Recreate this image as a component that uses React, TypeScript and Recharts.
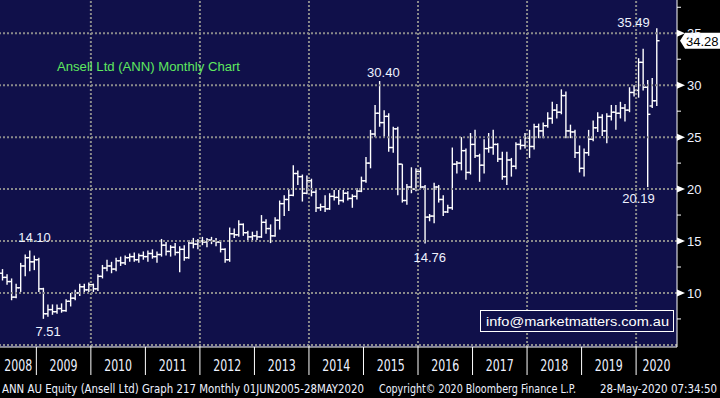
import {
  Bar,
  CartesianGrid,
  ComposedChart,
  ReferenceDot,
  ReferenceLine,
  XAxis,
  YAxis,
} from 'recharts';

// first bar of the chart
const START_YEAR = 2008;
const START_MONTH = 5;

// monthly bars: [open, high, low, close]
const y2008 = [
  [11.9, 12.3, 11.2, 11.5], [11.5, 11.8, 10.8, 11.1], [11.1, 11.4, 9.3, 9.6], [9.6, 10.9, 9.5, 10.5],
  [10.5, 12.9, 10.1, 12.6], [12.6, 13.7, 11.6, 13.4], [13.4, 14.1, 12.1, 13.0], [13.0, 13.6, 12.2, 13.2],
];
const y2009 = [
  [13.2, 13.4, 10.1, 10.4], [10.4, 10.5, 7.51, 8.0], [8.0, 8.9, 7.7, 8.4], [8.4, 8.9, 7.9, 8.2],
  [8.2, 8.9, 8.0, 8.5], [8.5, 9.0, 8.1, 8.3], [8.3, 9.4, 8.2, 9.2], [9.2, 10.0, 8.7, 9.5],
  [9.5, 10.3, 9.3, 10.0], [10.0, 10.9, 9.7, 10.6], [10.6, 10.9, 10.1, 10.3], [10.3, 11.0, 10.1, 10.8],
];
const y2010 = [
  [10.8, 10.9, 10.1, 10.4], [10.4, 11.8, 10.2, 11.6], [11.6, 12.7, 11.4, 12.4], [12.4, 13.2, 12.1, 12.6],
  [12.6, 13.0, 11.9, 12.3], [12.3, 13.4, 12.1, 13.1], [13.1, 13.5, 12.6, 12.9], [12.9, 13.6, 12.7, 13.4],
  [13.4, 13.8, 13.0, 13.5], [13.5, 13.9, 13.0, 13.2], [13.2, 13.8, 12.9, 13.6], [13.6, 14.0, 13.2, 13.5],
];
const y2011 = [
  [13.5, 14.1, 13.0, 13.8], [13.8, 14.2, 13.3, 13.5], [13.5, 14.0, 12.9, 13.7], [13.7, 15.2, 13.5, 14.6],
  [14.6, 14.9, 13.6, 14.0], [14.0, 14.6, 13.5, 14.4], [14.4, 14.8, 13.6, 13.9], [13.9, 14.5, 12.0, 14.2],
  [14.2, 14.6, 13.1, 13.4], [13.4, 15.1, 13.3, 14.8], [14.8, 15.3, 14.3, 14.7], [14.7, 15.2, 14.2, 15.0],
];
const y2012 = [
  [15.0, 15.4, 14.6, 14.9], [14.9, 15.3, 14.4, 15.1], [15.1, 15.4, 14.7, 15.0], [15.0, 15.3, 14.5, 14.9],
  [14.9, 15.1, 13.9, 14.2], [14.2, 14.3, 12.9, 13.2], [13.2, 16.3, 13.0, 15.7], [15.7, 16.2, 15.3, 15.6],
  [15.6, 17.0, 15.4, 16.6], [16.6, 16.7, 15.5, 15.8], [15.8, 16.0, 15.0, 15.4], [15.4, 15.9, 15.0, 15.5],
];
const y2013 = [
  [15.5, 16.0, 15.1, 15.4], [15.4, 17.5, 15.3, 16.8], [16.8, 17.1, 15.7, 16.2], [16.2, 16.6, 14.8, 15.5],
  [15.5, 17.3, 15.4, 17.0], [17.0, 18.9, 16.1, 18.6], [18.6, 19.4, 17.4, 19.0], [19.0, 20.0, 17.9, 19.4],
  [19.4, 22.3, 19.3, 21.5], [21.5, 21.8, 20.4, 21.2], [21.2, 21.4, 18.8, 19.6], [19.6, 21.3, 19.5, 20.8],
];
const y2014 = [
  [20.8, 21.0, 19.3, 19.7], [19.7, 19.9, 17.8, 18.2], [18.2, 18.6, 17.9, 18.3], [18.3, 19.4, 17.8, 18.1],
  [18.1, 19.6, 18.0, 19.3], [19.3, 19.9, 18.9, 19.2], [19.2, 19.9, 18.5, 18.9], [18.9, 19.9, 18.7, 19.6],
  [19.6, 19.8, 18.9, 19.1], [19.1, 19.5, 18.2, 19.3], [19.3, 20.1, 19.0, 19.8], [19.8, 21.2, 19.7, 20.8],
];
const y2015 = [
  [20.8, 23.1, 20.6, 22.5], [22.5, 25.7, 22.0, 25.3], [25.3, 28.1, 25.0, 27.3], [27.3, 30.4, 26.0, 26.4],
  [26.4, 27.6, 25.0, 27.0], [27.0, 27.3, 23.6, 24.0], [24.0, 26.0, 23.5, 25.8], [25.8, 26.0, 19.4, 22.4],
  [22.4, 22.4, 18.7, 18.9], [18.9, 20.5, 18.5, 20.2], [20.2, 22.1, 19.6, 20.0], [20.0, 22.0, 19.8, 21.7],
];
const y2016 = [
  [21.7, 22.1, 20.0, 20.2], [20.2, 20.4, 14.76, 17.3], [17.3, 17.6, 16.9, 17.4], [17.4, 20.6, 16.7, 20.2],
  [20.2, 20.4, 18.7, 19.0], [19.0, 19.4, 17.4, 17.8], [17.8, 18.5, 17.7, 18.2], [18.2, 24.0, 18.0, 22.4],
  [22.4, 22.7, 21.5, 22.5], [22.5, 25.0, 21.8, 23.7], [23.7, 23.9, 20.9, 21.6], [21.6, 25.4, 21.4, 24.3],
];
const y2017 = [
  [24.3, 25.7, 23.0, 23.2], [23.2, 23.4, 20.7, 22.3], [22.3, 24.8, 21.5, 23.9], [23.9, 25.4, 23.5, 24.0],
  [24.0, 25.7, 23.3, 24.3], [24.3, 24.4, 22.6, 22.9], [22.9, 23.6, 20.9, 21.2], [21.2, 23.6, 20.4, 22.8],
  [22.8, 23.0, 21.2, 22.2], [22.2, 24.5, 21.9, 24.3], [24.3, 24.8, 23.8, 24.2], [24.2, 25.4, 23.9, 24.9],
];
const y2018 = [
  [24.9, 25.7, 23.0, 24.1], [24.1, 26.3, 23.8, 26.0], [26.0, 26.3, 24.9, 25.6], [25.6, 26.4, 24.9, 26.1],
  [26.1, 27.4, 25.9, 26.8], [26.8, 28.4, 26.3, 27.6], [27.6, 28.2, 26.8, 27.4], [27.4, 29.6, 27.2, 29.0],
  [29.0, 29.4, 24.9, 25.6], [25.6, 26.2, 24.9, 25.5], [25.5, 25.7, 23.0, 23.5], [23.5, 24.2, 21.6, 22.0],
];
const y2019 = [
  [22.0, 23.9, 21.2, 23.5], [23.5, 25.7, 23.2, 24.8], [24.8, 26.6, 24.6, 25.9], [25.9, 27.4, 25.5, 26.9],
  [26.9, 27.2, 25.1, 25.6], [25.6, 27.3, 24.4, 27.0], [27.0, 28.1, 26.6, 27.4], [27.4, 28.1, 25.7, 27.3],
  [27.3, 28.4, 26.8, 27.8], [27.8, 28.2, 26.5, 27.6], [27.6, 29.8, 27.4, 29.3], [29.3, 30.0, 28.9, 29.5],
];
const y2020 = [
  [29.5, 32.6, 28.8, 32.2], [32.2, 33.5, 29.5, 29.8], [29.8, 30.5, 20.19, 27.2], [28.0, 30.7, 27.8, 28.5],
  [28.5, 35.49, 28.0, 34.28],
];

// empty months to the right of the last bar
const EMPTY_MONTHS = 4;

const priceTicks = [10, 15, 20, 25, 30, 35];
const minorTicks = [7.5, 12.5, 17.5, 22.5, 27.5, 32.5, 37.5];
const gridPrices = [5, 10, 15, 20, 25, 30, 35];
const gridYears = ['2010-01', '2012-01', '2014-01', '2016-01', '2018-01', '2020-01'];
const lastPrice = 34.28;

const annotations = [
  { month: '2008-11', value: 14.1, text: '14.10' },
  { month: '2009-02', value: 7.51, text: '7.51' },
  { month: '2015-04', value: 30.4, text: '30.40' },
  { month: '2016-02', value: 14.76, text: '14.76' },
  { month: '2020-05', value: 35.49, text: '35.49' },
  { month: '2020-03', value: 20.19, text: '20.19' },
];
const labelOffsets: Record<string, [number, number]> = {
  '14.10': [5, -8],
  '7.51': [5, 17],
  '30.40': [4, -4],
  '14.76': [5, 18],
  '35.49': [-23, -1],
  '20.19': [-9, 16],
};

const W = 720;
const H = 398;
const AXIS_W = 43;
const AXIS_H = 51;
const PLOT_W = W - AXIS_W;
const NAVY = '#10104a';
const TXT = '#eef2ff';

const bars = [...y2008, ...y2009, ...y2010, ...y2011, ...y2012, ...y2013, ...y2014, ...y2015, ...y2016, ...y2017, ...y2018, ...y2019, ...y2020];

const data = [];
for (let i = 0; i < bars.length + EMPTY_MONTHS; i++) {
  const n = START_MONTH - 1 + i;
  const m = `${START_YEAR + Math.floor(n / 12)}-${String((n % 12) + 1).padStart(2, '0')}`;
  const b = bars[i];
  data.push(b ? { m, open: b[0], high: b[1], low: b[2], close: b[3], range: [b[2], b[1]] } : { m });
}
const BAND = PLOT_W / data.length;
const yearTicks = data.filter((d, i) => i === 0 || d.m.endsWith('-01')).map((d) => d.m);

function OhlcBar(props: any) {
  const { x, y, width, height, payload } = props;
  if (!payload || payload.high == null) return null;
  const top = Math.min(y, y + height);
  const bottom = Math.max(y, y + height);
  const span = payload.high - payload.low || 1;
  const toY = (v: number) => top + ((bottom - top) * (payload.high - v)) / span;
  const cx = x + width / 2;
  const t = width * 0.55;
  return (
    <g stroke="#fff" strokeWidth={1.4}>
      <line x1={cx} x2={cx} y1={top} y2={bottom} />
      <line x1={cx - t} x2={cx} y1={toY(payload.open)} y2={toY(payload.open)} />
      <line x1={cx} x2={cx + t} y1={toY(payload.close)} y2={toY(payload.close)} />
    </g>
  );
}

function YearTick(props: any) {
  const { x, y, payload } = props;
  const [yr, mo] = String(payload.value).split('-').map(Number);
  const start = x - BAND / 2;
  const end = Math.min(start + (13 - mo) * BAND, PLOT_W);
  return (
    <g>
      {mo === 1 && <line x1={start} x2={start} y1={y} y2={y + 28} stroke="#fff" strokeWidth={1} />}
      <text
        x={(Math.max(start, 0) + end) / 2}
        y={y + 24}
        textAnchor="middle"
        fill={TXT}
        fontSize={15}
        fontFamily="'Liberation Sans Narrow', 'DejaVu Sans Condensed', sans-serif"
        textLength={28}
        lengthAdjust="spacingAndGlyphs"
      >
        {yr}
      </text>
    </g>
  );
}

function PriceTick(props: any) {
  const { x, y, payload } = props;
  if (!priceTicks.includes(payload.value)) {
    return <line x1={x} x2={x + 4} y1={y} y2={y} stroke="#fff" strokeWidth={1} />;
  }
  return (
    <g>
      <polygon points={`${x},${y - 3.5} ${x + 8},${y} ${x},${y + 3.5}`} fill="#fff" />
      <text x={x + 10} y={y + 5} fill={TXT} fontSize={13} fontFamily="'Liberation Sans', Arial, sans-serif">
        {payload.value}
      </text>
    </g>
  );
}

function NoteLabel(props: any) {
  const { viewBox, text } = props;
  const [dx, dy] = labelOffsets[text];
  return (
    <text
      x={viewBox.x + dx}
      y={viewBox.y + dy}
      textAnchor="middle"
      fill={TXT}
      fontSize={13}
      fontFamily="'Liberation Sans', Arial, sans-serif"
    >
      {text}
    </text>
  );
}

function PriceTag(props: any) {
  const { viewBox } = props;
  const ax = viewBox.x + viewBox.width;
  const cy = viewBox.y;
  return (
    <g>
      <polygon
        points={`${ax + 3},${cy} ${ax + 8},${cy - 8} ${W},${cy - 8} ${W},${cy + 8} ${ax + 8},${cy + 8}`}
        fill="#fff"
      />
      <text x={ax + 9} y={cy + 5} fill="#000" fontSize={13} fontFamily="'Liberation Sans', Arial, sans-serif">
        {lastPrice.toFixed(2)}
      </text>
    </g>
  );
}

export default function App() {
  return (
    <div style={{ position: 'fixed', left: 0, top: 0, width: W, height: H, background: '#000', overflow: 'hidden' }}>
      <ComposedChart
        width={W}
        height={H}
        data={data}
        margin={{ top: 0, right: 0, bottom: 0, left: 0 }}
        barCategoryGap={0}
        barGap={0}
      >
        <CartesianGrid fill={NAVY} horizontal={false} vertical={false} stroke="none" />
        {gridPrices.map((v) => (
          <ReferenceLine key={`h${v}`} y={v} stroke="#8a8a8a" strokeWidth={2} strokeDasharray="2 2" />
        ))}
        {gridYears.map((m) => (
          <ReferenceLine key={`v${m}`} x={m} position="start" stroke="#8a8a8a" strokeWidth={2} strokeDasharray="2 2" />
        ))}
        <XAxis
          dataKey="m"
          type="category"
          ticks={yearTicks}
          interval={0}
          tick={<YearTick />}
          tickLine={false}
          tickSize={0}
          tickMargin={0}
          axisLine={{ stroke: '#fff', strokeWidth: 1 }}
          height={AXIS_H}
        />
        <YAxis
          orientation="right"
          type="number"
          domain={[4.8, 38.2]}
          allowDataOverflow
          ticks={[...priceTicks, ...minorTicks].sort((a, b) => a - b)}
          interval={0}
          tick={<PriceTick />}
          tickLine={false}
          tickSize={0}
          tickMargin={0}
          axisLine={{ stroke: '#fff', strokeWidth: 1 }}
          width={AXIS_W}
        />
        <Bar dataKey="range" shape={OhlcBar} isAnimationActive={false} />
        {annotations.map((a) => (
          <ReferenceDot
            key={a.text}
            x={a.month}
            y={a.value}
            r={0}
            fill="none"
            stroke="none"
            label={<NoteLabel text={a.text} />}
          />
        ))}
        <ReferenceLine y={lastPrice} stroke="none" label={<PriceTag />} />
      </ComposedChart>
      <svg
        width={W}
        height={H}
        style={{ position: 'absolute', left: 0, top: 0, pointerEvents: 'none' }}
        fontFamily="'Liberation Sans', Arial, sans-serif"
      >
        <text x={57} y={71} fill="#5fe85f" fontSize={12.5} textLength={183} lengthAdjust="spacingAndGlyphs">
          Ansell Ltd (ANN) Monthly Chart
        </text>
        <rect x={480.5} y={310.5} width={193} height={21} fill={NAVY} stroke="#fff" strokeWidth={1} />
        <text x={486} y={326} fill="#fff" fontSize={13} textLength={183} lengthAdjust="spacingAndGlyphs">
          info@marketmatters.com.au
        </text>
        <g fill={TXT} fontSize={12} fontFamily="'Liberation Sans Narrow', 'DejaVu Sans Condensed', sans-serif">
          <text x={2} y={393} textLength={362} lengthAdjust="spacingAndGlyphs">
            ANN AU Equity (Ansell Ltd) Graph 217  Monthly 01JUN2005-28MAY2020
          </text>
          <text x={379} y={393} textLength={197} lengthAdjust="spacingAndGlyphs">
            Copyright© 2020 Bloomberg Finance L.P.
          </text>
          <text x={600} y={393} textLength={117} lengthAdjust="spacingAndGlyphs">
            28-May-2020 07:34:50
          </text>
        </g>
      </svg>
    </div>
  );
}
